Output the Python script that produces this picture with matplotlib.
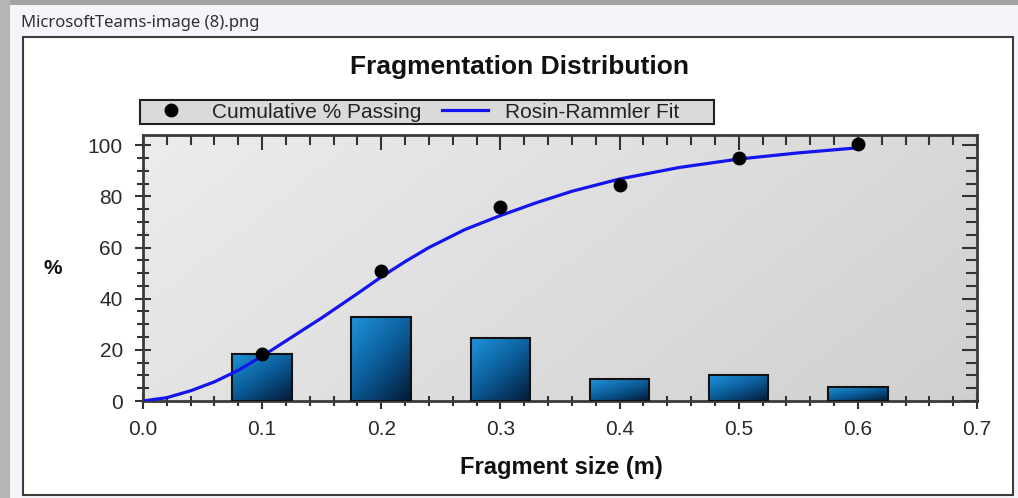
import numpy as np
import matplotlib
matplotlib.use("Agg")
import matplotlib.pyplot as plt
from matplotlib.patches import Rectangle
from matplotlib.colors import LinearSegmentedColormap

plt.rcParams['font.family'] = ['Liberation Sans', 'DejaVu Sans']

# size classes (m) and retained % per class
sizes = [0.1, 0.2, 0.3, 0.4, 0.5, 0.6]
retained = [18.5, 33.0, 24.5, 8.5, 10.0, 5.5]
cum_passing = [18.5, 51.0, 76.0, 84.5, 95.0, 100.5]

# Rosin-Rammler fit curve
fit_x = [0.0, 0.02, 0.04, 0.06, 0.08, 0.10, 0.12, 0.15, 0.18, 0.20, 0.22,
         0.24, 0.27, 0.30, 0.33, 0.36, 0.40, 0.45, 0.50, 0.55, 0.60]
fit_y = [0.0, 1.3, 4.0, 7.5, 12.0, 17.5, 23.5, 32.5, 42.0, 48.5, 54.5,
         60.0, 67.0, 72.5, 77.5, 82.0, 86.8, 91.3, 94.6, 97.0, 99.0]

W, H = 1018, 498
fig = plt.figure(figsize=(W / 100, H / 100), dpi=100)
fig.patch.set_facecolor('#f3f5fa')


def box(x0, y0, x1, y1):
    # pixel box (top-left origin) -> figure fraction rect args
    return (x0 / W, 1 - y1 / H), (x1 - x0) / W, (y1 - y0) / H


# window chrome
for (xy, w, h), fc in [(box(0, 0, W, 5), '#a3a3a3'), (box(0, 0, 10, H), '#b5b5b5')]:
    fig.patches.append(Rectangle(xy, w, h, transform=fig.transFigure, facecolor=fc,
                                 edgecolor='none', zorder=-2))
xy, w, h = box(23, 37, 1013, 495)
fig.patches.append(Rectangle(xy, w, h, transform=fig.transFigure, facecolor='white',
                             edgecolor='#3c3c3c', lw=1.5, zorder=-2))
fig.text(21 / W, 1 - 23 / H, 'MicrosoftTeams-image (8).png', family=['Noto Sans', 'DejaVu Sans'],
         fontsize=12, color='#303030', va='center', ha='left')

# legend frame
xy, w, h = box(140, 100, 714, 124)
fig.patches.append(Rectangle(xy, w, h, transform=fig.transFigure, facecolor='#dadada',
                             edgecolor='#202020', lw=1.5, zorder=-1))

ax = fig.add_axes([143 / W, 1 - 401 / H, (977 - 143) / W, (401 - 135) / H])
ax.set_zorder(2)
ax.patch.set_alpha(0)

# plot-area background
bg = np.add.outer(np.linspace(0, 0.4, 50), np.linspace(0, 1, 100))
bg_cmap = LinearSegmentedColormap.from_list('bg', ['#ececec', '#d0d0d0'])
ax.imshow(bg, extent=[0, 1, 0, 1], transform=ax.transAxes, cmap=bg_cmap,
          aspect='auto', zorder=0, interpolation='bilinear')

# bars with a shaded blue fill
bar_cmap = LinearSegmentedColormap.from_list('bar', ['#2094dc', '#0b5c98', '#041a36'])
bars = ax.bar(sizes, retained, width=0.05, facecolor='none', edgecolor='#111111',
              lw=1.5, zorder=3)
gy, gx = np.mgrid[0:1:60j, 0:1:60j]
grad = 0.45 * gx + 0.55 * gy
for rect in bars:
    x0 = rect.get_x()
    im = ax.imshow(grad, extent=[x0, x0 + rect.get_width(), 0, rect.get_height()],
                   cmap=bar_cmap, aspect='auto', zorder=2, interpolation='bilinear')
    im.set_clip_path(rect)

ax.plot(fit_x, fit_y, color='#1414f0', lw=2.3, zorder=4, label='Rosin-Rammler Fit',
        solid_joinstyle='round')
ax.plot(sizes, cum_passing, 'o', color='black', ms=9, zorder=5,
        label='Cumulative % Passing')

ax.set_xlim(0, 0.7)
ax.set_ylim(0, 104)
ax.set_xticks(np.arange(0, 0.71, 0.1))
ax.set_xticks(np.arange(0, 0.701, 0.02), minor=True)
ax.set_xticklabels(['0.0', '0.1', '0.2', '0.3', '0.4', '0.5', '0.6', '0.7'])
ax.set_yticks(np.arange(0, 101, 20))
ax.set_yticks(np.arange(0, 101, 5), minor=True)

for sp in ax.spines.values():
    sp.set_color('#3a3a3a')
    sp.set_linewidth(2)

ax.tick_params(which='both', direction='inout', color='#333333', width=1.5,
               labelcolor='#2a2a2a', labelsize=15)
ax.tick_params(axis='x', which='major', length=11, pad=8)
ax.tick_params(axis='x', which='minor', length=7)
ax.tick_params(axis='y', which='major', length=11, pad=9)
ax.tick_params(axis='y', which='minor', length=8)
ax.tick_params(which='both', top=True, right=True)

# top and right ticks point inward only
for t in ax.xaxis.get_major_ticks() + ax.xaxis.get_minor_ticks():
    t.tick2line.set_marker(3)
for t in ax.yaxis.get_major_ticks() + ax.yaxis.get_minor_ticks():
    t.tick2line.set_marker(0)

fig.text(519 / W, 1 - 67 / H, 'Fragmentation Distribution', fontsize=19,
         fontweight='bold', ha='center', va='center', color='#111111')
fig.text(561 / W, 1 - 467 / H, 'Fragment size (m)', fontsize=17, fontweight='bold',
         ha='center', va='center', color='#111111')
fig.text(53 / W, 1 - 268 / H, '%', fontsize=15, fontweight='bold',
         ha='center', va='center', color='#111111')

handles, labels = ax.get_legend_handles_labels()
fig.legend(handles[::-1], labels[::-1], loc='center left',
           bbox_to_anchor=(148 / W, 1 - 112 / H), ncol=2, frameon=False,
           fontsize=15, handlelength=2.2, handletextpad=0.85, columnspacing=1.0,
           borderpad=0, borderaxespad=0, labelcolor='#222222')

fig.savefig('out.png', dpi=100)
